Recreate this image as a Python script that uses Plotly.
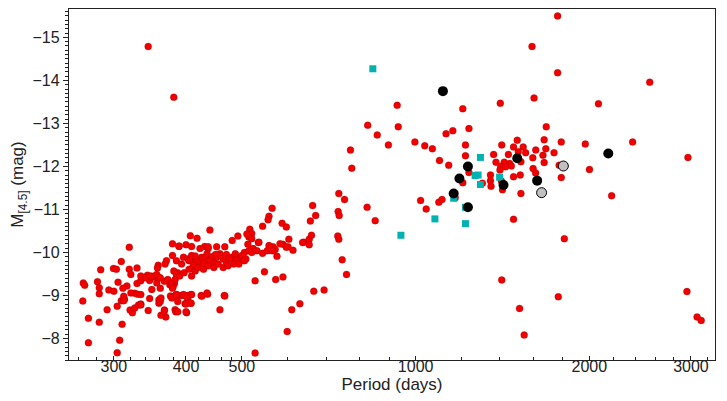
import plotly.graph_objects as go
import math

# ---- red points (period in days, M[4.5] in mag) ----
red_period = [
    344, 381,
    1762, 1762, 1591, 1207, 1402, 1604, 2074,
    2545, 2377, 2964, 2186,
    929, 933, 897,
    1684, 1129, 1160, 1237,
    997, 1037, 1069, 1220, 1410, 1500, 1478, 1536, 1670, 1788, 1968,
    1220, 1365, 1448, 1506, 1551, 1615, 1681, 1662, 1737,
    1378, 1424, 1455, 1404, 1432, 1465, 1522, 1596, 1670, 1598, 1614, 1788, 1773, 2001,
    1522, 1478, 1810,
    1020, 1043, 1097, 1111, 1100, 1141,
    1207, 1237, 1348, 1348, 1351, 1408, 1414, 1478, 1518, 1400, 1305, 1171,
    1410, 1767, 1514, 1542, 2952, 3074, 3125,
    826, 858, 771, 775, 736, 753, 824, 851,
    663, 671, 657, 734, 737, 733, 736, 746, 759,
    564, 557, 555, 543, 516, 520, 514, 587, 597, 640, 654, 660, 654, 603, 589, 601,
    613, 566, 558, 571, 575, 534, 512, 523, 508, 637,
    547, 527, 572, 589, 527, 599, 610, 630, 666, 694, 458, 467, 425, 436,
    265, 265.5, 267, 271, 271, 281, 283, 283, 283, 284.6, 292, 294, 299.5, 303, 304,
    305, 309, 310, 307, 304, 316, 311, 309, 313, 319, 319, 321, 320, 323, 326, 329,
    329, 334, 326, 330, 331, 334, 344, 343, 338, 348, 346, 346, 351, 355, 356, 359,
    358, 357, 359, 359, 367, 366, 369, 370, 368, 375, 378, 382, 380, 376, 383, 385,
    383, 384, 379, 381, 387, 385, 389, 392, 398.5, 398.5, 401, 403, 408, 408, 407,
    418, 440, 431, 437,
    389, 400, 409, 423, 437, 452, 467, 481, 492, 510, 520, 535, 557, 582, 597,
    379, 385, 393, 396, 403, 409, 415, 420, 426, 435, 441, 447, 452, 458, 464, 470,
    481, 487, 497, 505, 514, 520, 531, 543, 553, 565,
    405, 426, 432, 444, 438, 418, 412, 430, 450, 460, 470, 476, 490, 500, 415,
    334, 341, 348, 356, 361, 367, 372, 378, 383, 390, 397, 405, 409, 415, 420, 429,
    437, 447, 455, 464, 473, 484, 494, 505,
    300, 312, 321, 334, 349, 361, 379, 396, 403, 409, 426, 435, 466,
    400, 387, 362, 367, 334, 312, 361, 362, 378, 385, 387, 400, 400, 408,
]
red_mag = [
    -14.79, -13.61,
    -15.50, -14.18, -14.79, -13.34, -13.47, -13.59, -13.46,
    -13.96, -12.57, -12.21, -11.32,
    -13.42, -12.92, -12.50,
    -12.92, -12.76, -12.83, -12.88,
    -12.57, -12.48, -12.41, -12.50, -12.50, -12.61, -12.45, -12.45, -12.62, -12.57, -12.52,
    -12.25, -12.28, -12.28, -12.34, -12.32, -12.38, -12.41, -12.26, -12.32,
    -12.10, -12.10, -12.07, -12.00, -11.99, -12.01, -12.11, -12.20, -12.09, -11.95, -11.85, -11.74, -12.03, -11.93,
    -11.37, -10.77, -10.32,
    -11.21, -11.01, -11.17, -11.23, -12.14, -12.03,
    -11.62, -11.86, -11.80, -11.67, -11.54, -11.66, -11.46, -11.76, -11.80, -11.92, -11.61, -11.27,
    -9.36, -8.97, -8.70, -8.08, -9.09, -8.50, -8.42,
    -12.96, -12.73, -12.38, -11.96, -11.37, -11.23, -11.05, -10.74,
    -11.09, -10.86, -10.73, -10.95, -10.86, -10.38, -10.31, -9.83, -9.49,
    -11.03, -10.84, -10.76, -10.61, -10.54, -10.44, -10.36, -10.68, -10.59, -10.24, -10.31, -10.40, -10.18, -10.31, -10.19, -10.13,
    -10.05, -10.13, -10.05, -10.07, -9.91, -10.23, -10.19, -10.09, -9.85, -10.23,
    -9.55, -9.34, -9.37, -9.43, -7.66, -8.16, -8.67, -8.81, -9.10, -9.13, -8.67, -8.99, -9.00, -9.03,
    -8.87, -9.29, -9.24, -8.47, -7.90, -9.32, -9.18, -9.04, -8.38, -9.60, -8.67, -9.13, -9.63, -9.61, -8.75,
    -9.31, -9.79, -8.33, -7.96, -7.67, -9.22, -9.17, -8.88, -8.91, -10.12, -9.61, -9.49, -8.66, -8.60, -8.71, -9.64,
    -9.28, -9.34, -9.05, -9.03, -8.78, -8.80, -8.65, -9.47, -9.42, -9.43, -9.35, -8.93, -9.43, -9.47, -9.29, -9.41,
    -9.70, -9.64, -8.90, -8.82, -8.66, -8.55, -8.50, -9.81, -9.73, -9.25, -9.28, -9.28, -9.21, -8.99, -8.99, -9.02,
    -8.67, -8.62, -10.20, -9.57, -9.53, -9.49, -10.14, -9.00, -8.81, -9.00, -8.60, -9.00, -9.02, -8.82, -10.39,
    -10.33, -10.52, -10.14, -10.09,
    -10.15, -10.18, -10.14, -10.09, -10.13, -10.13, -10.13, -10.28, -10.38, -10.43, -10.32, -10.24, -10.16, -10.20, -10.12,
    -9.93, -9.81, -9.73, -9.89, -9.85, -9.93, -9.81, -9.73, -9.89, -9.97, -9.85, -9.77, -9.89, -9.97, -9.85, -9.77,
    -9.89, -9.97, -9.89, -10.00, -10.04, -10.00, -10.04, -9.98, -10.04, -10.04,
    -9.81, -9.85, -9.88, -9.90, -9.80, -9.78, -9.70, -9.75, -9.95, -9.92, -9.95, -9.85, -9.82, -9.93, -9.92,
    -9.45, -9.41, -9.45, -9.49, -9.41, -9.33, -9.37, -9.29, -9.37, -9.45, -9.53, -9.61, -9.45, -9.57, -9.65, -9.61,
    -9.69, -9.65, -9.73, -9.65, -9.69, -9.73, -9.73, -9.81,
    -9.10, -8.98, -9.06, -9.02, -9.14, -9.17, -9.17, -9.02, -8.90, -9.02, -8.98, -9.06, -9.00,
    -8.62, -8.62, -8.54, -8.65, -8.78, -8.88, -8.86, -8.94, -8.94, -9.02, -8.86, -8.98, -8.80, -8.82,
]

# ---- cyan squares ----
cyan_period = [843, 1295, 1268, 1283, 1295, 1398, 1164, 1220, 1080, 1220, 943]
cyan_mag = [-14.27, -12.21, -11.79, -11.80, -11.58, -11.75, -11.26, -11.05, -10.78, -10.67, -10.40]

# ---- black circles ----
black_period = [1115, 1232, 1191, 1164, 1232, 1420, 1500, 1624, 2157]
black_mag = [-13.75, -12.00, -11.72, -11.37, -11.05, -11.57, -12.19, -11.67, -12.30]

# ---- grey circles ----
grey_period = [1803, 1653]
grey_mag = [-12.01, -11.39]

# ---- axes ----
x_tickvals = [300, 400, 500, 1000, 2000, 3000]
x_ticktext = ["300", "400", "500", "1000", "2000", "3000"]
x_minor = [260, 280, 320, 340, 360, 380, 420, 440, 460, 480, 600, 700, 800, 900,
           1200, 1400, 1600, 1800, 2200, 2400, 2600, 2800, 3200]
y_tickvals = [-15, -14, -13, -12, -11, -10, -9, -8]

fig = go.Figure()
fig.add_trace(go.Scatter(
    x=red_period, y=red_mag, mode="markers",
    marker=dict(symbol="circle", size=7, color="rgb(242,0,0)",
                line=dict(width=0.5, color="rgba(110,0,0,0.45)")),
    showlegend=False))
fig.add_trace(go.Scatter(
    x=cyan_period, y=cyan_mag, mode="markers",
    marker=dict(symbol="square", size=7, color="#00b2b2", line=dict(width=0)),
    showlegend=False))
fig.add_trace(go.Scatter(
    x=black_period, y=black_mag, mode="markers",
    marker=dict(symbol="circle", size=10, color="black", line=dict(width=0)),
    showlegend=False))
fig.add_trace(go.Scatter(
    x=grey_period, y=grey_mag, mode="markers",
    marker=dict(symbol="circle", size=10, color="#c0c0c0", line=dict(width=1, color="black")),
    showlegend=False))

# the page body adds an 8 px offset, so the figure is sized to fit the rest of the window
font = dict(family="Liberation Sans, Arial, sans-serif", size=16, color="#222")
fig.update_layout(
    width=719, height=393,
    margin=dict(l=61, r=12, t=1, b=41, autoexpand=False),
    paper_bgcolor="white", plot_bgcolor="white",
    font=font,
    xaxis=dict(
        type="log", range=[math.log10(250.8), math.log10(3302)],
        tickmode="array", tickvals=x_tickvals, ticktext=x_ticktext,
        ticks="inside", ticklen=4, tickwidth=1, tickcolor="#222",
        minor=dict(tickmode="array", tickvals=x_minor, ticks="inside", ticklen=3,
                   tickwidth=1, tickcolor="#222", showgrid=False),
        showline=True, linecolor="#222", linewidth=1.3, mirror=True,
        showgrid=False, zeroline=False, automargin=False,
        title=dict(text="Period (days)", font=dict(size=17), standoff=1),
        ticklabelstandoff=-8,
    ),
    yaxis=dict(
        range=[-7.5, -15.66],
        tickmode="array", tickvals=y_tickvals,
        ticks="outside", ticklen=5, tickwidth=1, tickcolor="#222",
        minor=dict(dtick=0.1, tick0=0, ticks="outside", ticklen=3, tickwidth=1,
                   tickcolor="#222", showgrid=False),
        showline=True, linecolor="#222", linewidth=1.3, mirror=True,
        showgrid=False, zeroline=False, automargin=False,
        title=dict(text="M<sub>[4.5]</sub> (mag)", font=dict(size=17), standoff=5),
    ),
)
fig.write_html("out.html")
